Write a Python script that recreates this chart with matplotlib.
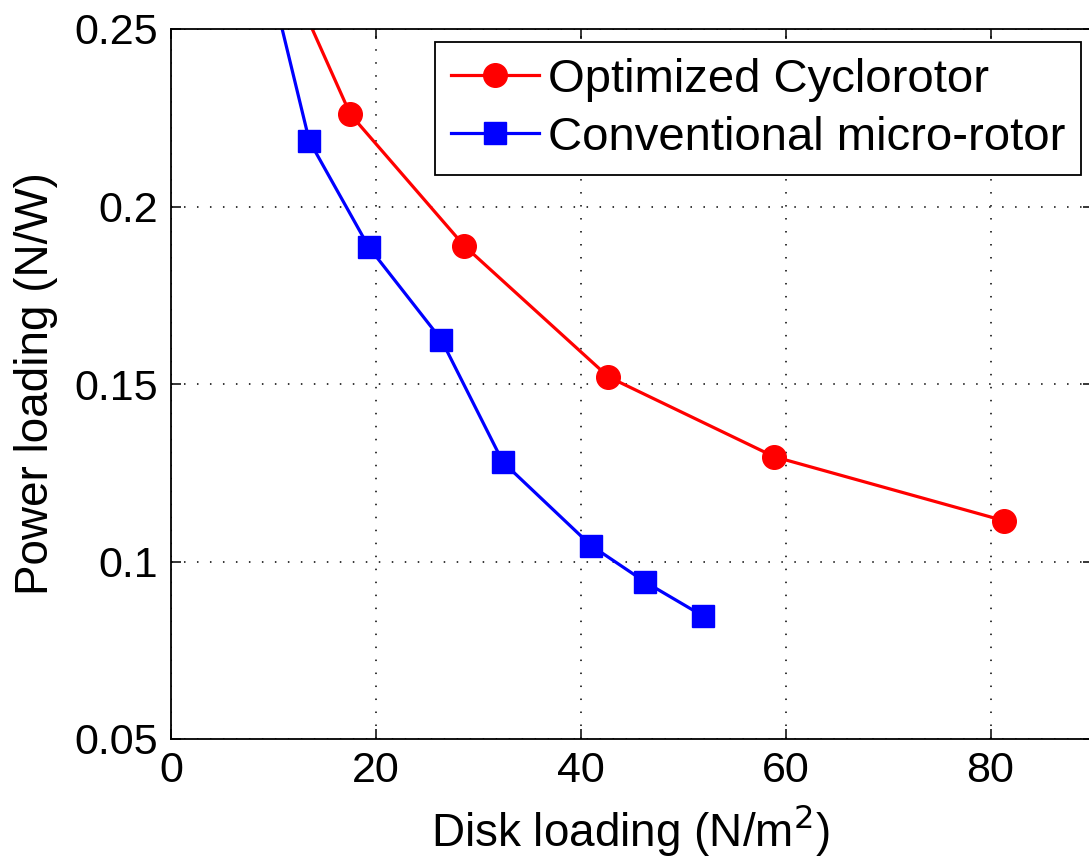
import matplotlib
matplotlib.use("Agg")
import matplotlib.pyplot as plt

# Data
cyclo_x = [11.0, 17.5, 28.6, 42.7, 58.9, 81.3]
cyclo_y = [0.268, 0.226, 0.189, 0.152, 0.1295, 0.1115]
conv_x = [9.0, 13.5, 19.3, 26.4, 32.4, 41.0, 46.3, 51.9]
conv_y = [0.272, 0.2185, 0.1886, 0.1624, 0.128, 0.1045, 0.0942, 0.0847]
x_ticks = [0, 20, 40, 60, 80]
y_ticks = [0.05, 0.1, 0.15, 0.2, 0.25]
y_tick_labels = ["0.05", "0.1", "0.15", "0.2", "0.25"]
labels = ["Optimized Cyclorotor", "Conventional micro-rotor"]

plt.rcParams['font.family'] = ['Liberation Sans', 'DejaVu Sans']
FS_TICK = 31
FS_LABEL = 33
FS_LEG = 34

W, H = 1089, 864
fig = plt.figure(figsize=(W / 100, H / 100), dpi=100)
left, right, top, bottom = 171, 1093, 29, 739
ax = fig.add_axes([left / W, 1 - bottom / H, (right - left) / W, (bottom - top) / H])

ax.plot(cyclo_x, cyclo_y, color='#ff0000', lw=2.3, marker='o', ms=17,
        markeredgecolor='#ff0000', markerfacecolor='#ff0000', label=labels[0])
ax.plot(conv_x, conv_y, color='#0000ff', lw=2.3, marker='s', ms=16,
        markeredgecolor='#0000ff', markerfacecolor='#0000ff', label=labels[1])

ax.set_xlim(0, 90)
ax.set_ylim(0.05, 0.25)
ax.set_xticks(x_ticks)
ax.set_yticks(y_ticks)
ax.set_yticklabels(y_tick_labels)
ax.tick_params(direction='in', length=7, width=1.1, top=True, right=True,
               labelsize=FS_TICK, pad=9, colors='black')
for s in ax.spines.values():
    s.set_linewidth(1.3)
    s.set_color('black')

ax.grid(True, color='black', linestyle=(0, (1, 7.5)), linewidth=1.1)
ax.set_axisbelow(True)

ax.set_xlabel("Disk loading (N/m$^2$)", fontsize=FS_LABEL)
ax.set_ylabel("Power loading (N/W)", fontsize=FS_LABEL)
ax.xaxis.label.set_va('baseline')
ax.xaxis.set_label_coords((630 - left) / (right - left), -(846 - bottom) / (bottom - top))
ax.yaxis.set_label_coords(-(left - 58) / (right - left), 0.5)

leg = ax.legend(loc='upper right', bbox_to_anchor=(1081 / W, 1 - 42 / H),
                bbox_transform=fig.transFigure, borderaxespad=0,
                fontsize=FS_LEG, fancybox=False, framealpha=1, edgecolor='black',
                handlelength=1.86, handletextpad=0.2, labelspacing=0.3,
                borderpad=0.33)
leg.get_frame().set_linewidth(1.3)

fig.savefig("out.png", dpi=100)
